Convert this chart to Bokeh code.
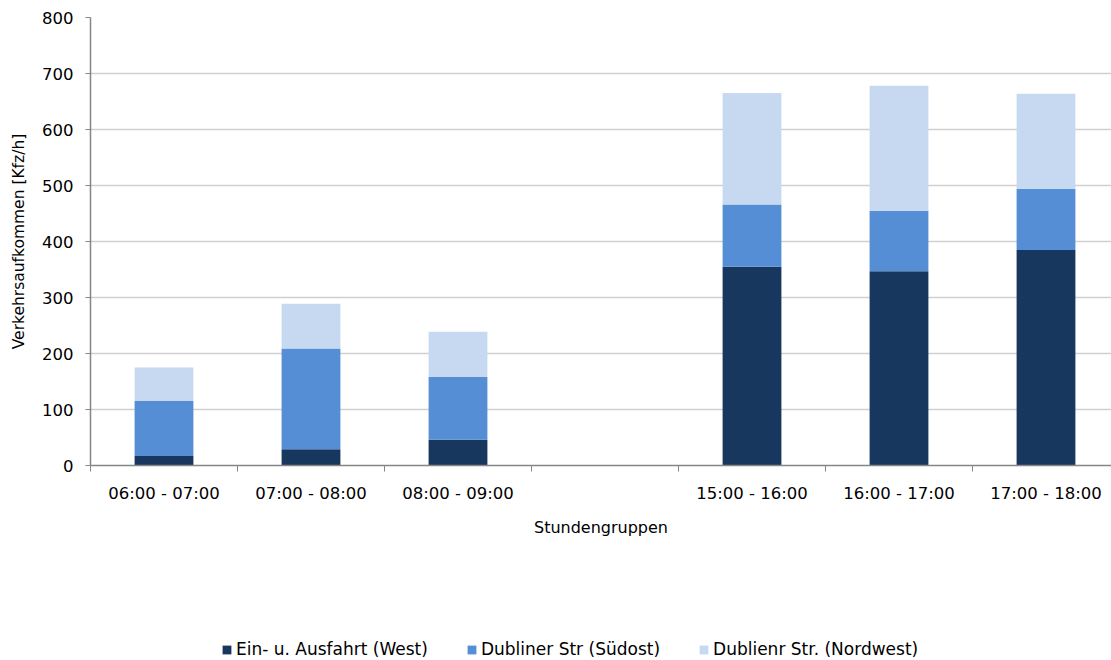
from bokeh.plotting import figure
from bokeh.layouts import column
from bokeh.models import (ColumnDataSource, Range1d, FixedTicker, Legend, LegendItem)
from bokeh.embed import file_html
from bokeh.resources import INLINE

# Hourly groups (the empty slot separates morning and afternoon peaks)
categories = ["06:00 - 07:00", "07:00 - 08:00", "08:00 - 09:00", "",
              "15:00 - 16:00", "16:00 - 17:00", "17:00 - 18:00"]
series_names = ["Ein- u. Ausfahrt (West)", "Dubliner Str (Südost)", "Dublienr Str. (Nordwest)"]
west = [17, 29, 46, 0, 355, 347, 385]
suedost = [98, 180, 112, 0, 111, 108, 109]
nordwest = [60, 80, 81, 0, 199, 223, 170]
y_ticks = [0, 100, 200, 300, 400, 500, 600, 700, 800]

colors = ["#17375e", "#558ed5", "#c6d9f1"]
FONT = "DejaVu Sans"

n = len(categories)
centers = [i + 0.5 for i in range(n)]
bounds = [i for i in range(n + 1)]

source = ColumnDataSource(dict(x=centers, west=west, suedost=suedost, nordwest=nordwest))

W = 1111
H_CHART, H_LEG = 620, 40
left, top = 90, 17
bottom = H_CHART - 465
slot = 147.0

p = figure(width=W, height=H_CHART, output_backend="svg", toolbar_location=None,
           x_range=Range1d(0, (W - left) / slot), y_range=Range1d(0, 800),
           min_border_left=left, min_border_right=0, min_border_top=top,
           min_border_bottom=bottom, background_fill_color="white",
           border_fill_color="white")
p.outline_line_color = None

p.vbar_stack(["west", "suedost", "nordwest"], x="x", width=0.4,
             color=colors, line_color=None, source=source)

# y axis
p.yaxis.ticker = FixedTicker(ticks=y_ticks)
p.yaxis.axis_line_color = "#868686"
p.yaxis.axis_line_width = 1.5
p.yaxis.major_tick_line_color = "#868686"
p.yaxis.major_tick_out = 5
p.yaxis.major_tick_in = 0
p.yaxis.minor_tick_line_color = None
p.yaxis.major_label_text_font = FONT
p.yaxis.major_label_text_font_size = "16.5px"
p.yaxis.major_label_text_color = "#000000"
p.yaxis.major_label_standoff = 12
p.yaxis.axis_label = "Verkehrsaufkommen [Kfz/h]"
p.yaxis.axis_label_text_font = FONT
p.yaxis.axis_label_text_font_style = "normal"
p.yaxis.axis_label_text_font_size = "15.5px"
p.yaxis.axis_label_text_color = "#000000"
p.yaxis.axis_label_standoff = 11

# x axis: labels at slot centres, tick marks at slot boundaries
p.xaxis.ticker = FixedTicker(ticks=centers, minor_ticks=bounds)
p.xaxis.major_label_overrides = {c: lab for c, lab in zip(centers, categories)}
p.xaxis.axis_line_color = "#868686"
p.xaxis.axis_line_width = 1.5
p.xaxis.major_tick_line_color = None
p.xaxis.major_tick_out = 0
p.xaxis.major_tick_in = 0
p.xaxis.minor_tick_line_color = "#868686"
p.xaxis.minor_tick_out = 6
p.xaxis.minor_tick_in = 0
p.xaxis.major_label_text_font = FONT
p.xaxis.major_label_text_font_size = "16.5px"
p.xaxis.major_label_text_color = "#000000"
p.xaxis.major_label_standoff = 12
p.xaxis.axis_label = "Stundengruppen"
p.xaxis.axis_label_text_font = FONT
p.xaxis.axis_label_text_font_style = "normal"
p.xaxis.axis_label_text_font_size = "16px"
p.xaxis.axis_label_text_color = "#000000"
p.xaxis.axis_label_standoff = 12

p.xgrid.grid_line_color = None
p.ygrid.ticker = FixedTicker(ticks=y_ticks)
p.ygrid.grid_line_color = "#d0d0d0"
p.ygrid.grid_line_width = 1.5

# Legend strip underneath the chart (swatch glyphs sit outside the visible range)
leg = figure(width=W, height=H_LEG, output_backend="svg", toolbar_location=None,
             x_range=Range1d(0, 1), y_range=Range1d(0, 1),
             min_border=0, background_fill_color="white", border_fill_color="white")
leg.outline_line_color = None
leg.axis.visible = False
leg.grid.visible = False
swatches = [leg.vbar(x=[5], top=[5], bottom=[4], width=0.1, color=c, line_color=None)
            for c in colors]
legend = Legend(items=[LegendItem(label=nm, renderers=[r]) for nm, r in zip(series_names, swatches)],
                orientation="horizontal", location=(131, 1),
                background_fill_alpha=0, border_line_color=None,
                label_text_font=FONT, label_text_font_size="17px", label_text_color="#000000",
                glyph_width=11, glyph_height=11, label_standoff=4, spacing=38,
                padding=0, margin=0)
leg.add_layout(legend, "center")

layout = column(p, leg, spacing=0)
open("out.html", "w").write(file_html(layout, INLINE))
